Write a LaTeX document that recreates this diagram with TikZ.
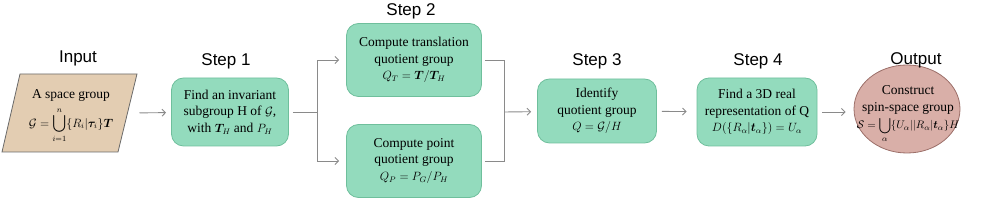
\documentclass[tikz,border=0pt]{standalone}
\usepackage{amsmath}
\usepackage{bm}
\usepackage{fontspec}
\setmainfont{Liberation Serif}
\newfontfamily\labelfont{Liberation Sans}
\usetikzlibrary{arrows.meta,shapes.geometric}
\definecolor{boxfill}{HTML}{93DBBD}
\definecolor{boxline}{HTML}{6FBF9C}
\definecolor{tanfill}{HTML}{E3CDB2}
\definecolor{tanline}{HTML}{6A6A6A}
\definecolor{ovfill}{HTML}{D9AFA8}
\definecolor{ovline}{HTML}{9C6F69}
\definecolor{conncol}{HTML}{8A8A8A}
\newcommand\mth[1]{{\fontsize{11.5}{14}\selectfont$#1$}}
\newcommand\mths[1]{{\fontsize{10.8}{13}\selectfont$#1$}}
\begin{document}
\begin{tikzpicture}[x=1pt,y=-1pt,
  stepbox/.style={draw=boxline, fill=boxfill, rounded corners=12pt, line width=0.8pt,
    align=center, inner sep=0pt, font=\fontsize{13.5}{16.5}\selectfont},
  txt/.style={align=center, inner sep=0pt, font=\fontsize{13.5}{16.5}\selectfont},
  steplabel/.style={anchor=base, inner sep=0pt, font=\labelfont\fontsize{17}{20}\selectfont},
  conn/.style={draw=conncol, line width=0.9pt},
  arr/.style={conn, -{Straight Barb[length=3.5pt,width=7pt]}}]
\useasboundingbox (0,0) rectangle (1000,205);

% Input
\coordinate (inTL) at (20,74);
\coordinate (inTR) at (137,74);
\coordinate (inBR) at (118,152);
\coordinate (inBL) at (2,152);
\draw[fill=tanfill, draw=tanline, line width=0.8pt] (inTL) -- (inTR) -- (inBR) -- (inBL) -- cycle;
\coordinate (inR) at (127.5,113);
\node[txt] (inp) at (71,116) {A space group\\[5pt]
  \mth{\mathcal{G}=\displaystyle\bigcup_{i=1}^{n}\{R_i|\bm{\tau}_i\}\bm{T}}};
\node[steplabel] (linp) at (78,63) {Input};

% Step 1
\node[stepbox, minimum width=117pt, minimum height=68pt] (s1) at (230,112)
  {Find an invariant\\ subgroup H of \mth{\mathcal{G}},\\ with \mth{\bm{T}_H} and \mth{P_H}};
\node[steplabel] (l1) at (226,66) {Step 1};

% Step 2
\node[stepbox, minimum width=135pt, minimum height=73pt] (s2a) at (414,60)
  {Compute translation\\ quotient group\\ \mth{Q_T=\bm{T}/\bm{T}_H}};
\node[stepbox, minimum width=135pt, minimum height=73pt] (s2b) at (414,161)
  {Compute point\\ quotient group\\ \mth{Q_P=P_G/P_H}};
\node[steplabel] (l2) at (411,16) {Step 2};

% Step 3
\node[stepbox, minimum width=119pt, minimum height=64pt] (s3) at (597,111)
  {Identify\\ quotient group\\ \mth{Q=\mathcal{G}/H}};
\node[steplabel] (l3) at (597,66) {Step 3};

% Step 4
\node[stepbox, minimum width=120pt, minimum height=68pt] (s4) at (757,112)
  {Find a 3D real\\ representation of Q\\ \mth{D(\{R_\alpha|\bm{t}_\alpha\})=U_\alpha}};
\node[steplabel] (l4) at (758,66) {Step 4};

% Output
\node[ellipse, draw=ovline, fill=ovfill, line width=0.8pt, minimum width=106pt,
  minimum height=88pt, inner sep=0pt] (out) at (907,109) {};
\node[txt] (outt) at (908,114) {Construct\\ spin-space group\\[1pt]
  \mths{\mathcal{S}=\displaystyle\bigcup_{\alpha}\{U_\alpha||R_\alpha|\bm{t}_\alpha\}H}};
\node[steplabel] (lo) at (916,65) {Output};

% connectors
\coordinate (j1) at (317,112);
\coordinate (j2) at (504,112);
\draw[arr, shorten <=12pt, shorten >=5pt] (inR) -- (s1);
\draw[conn, shorten <=4pt] (s1) -- (j1);
\draw[arr, shorten >=7pt] (j1) |- (s2a);
\draw[arr, shorten >=7pt] (j1) |- (s2b);
\draw[conn, shorten <=3pt] (s2a) -| (j2);
\draw[conn, shorten <=3pt] (s2b) -| (j2);
\draw[arr, shorten >=6pt] (j2) -- (s3);
\draw[arr, shorten <=5pt, shorten >=10pt] (s3) -- (s4);
\draw[arr, shorten <=5pt, shorten >=8pt] (s4.east) -- (s4.east -| out.west);
\end{tikzpicture}
\end{document}
